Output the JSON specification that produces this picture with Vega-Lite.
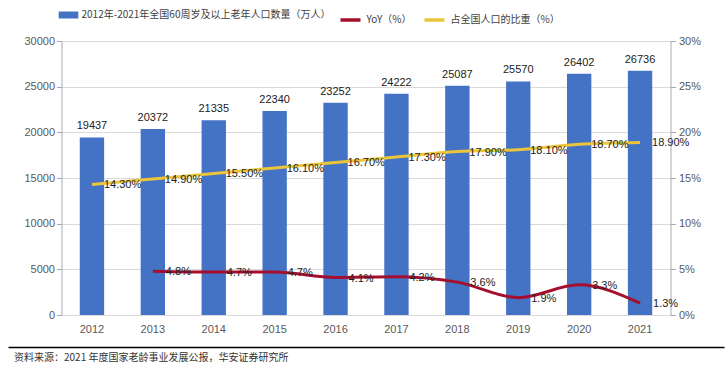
{
  "$schema": "https://vega.github.io/schema/vega-lite/v6.json",
  "background": "white",
  "padding": {"left": 8, "right": 3, "top": 8, "bottom": 5},
  "datasets": {
    "pop": [
      {"year": "2012", "pop": 19437},
      {"year": "2013", "pop": 20372},
      {"year": "2014", "pop": 21335},
      {"year": "2015", "pop": 22340},
      {"year": "2016", "pop": 23252},
      {"year": "2017", "pop": 24222},
      {"year": "2018", "pop": 25087},
      {"year": "2019", "pop": 25570},
      {"year": "2020", "pop": 26402},
      {"year": "2021", "pop": 26736}
    ],
    "pct": [
      {"year": "2013", "series": "YoY（%）", "value": 0.048},
      {"year": "2014", "series": "YoY（%）", "value": 0.047},
      {"year": "2015", "series": "YoY（%）", "value": 0.047},
      {"year": "2016", "series": "YoY（%）", "value": 0.041},
      {"year": "2017", "series": "YoY（%）", "value": 0.042},
      {"year": "2018", "series": "YoY（%）", "value": 0.036},
      {"year": "2019", "series": "YoY（%）", "value": 0.019},
      {"year": "2020", "series": "YoY（%）", "value": 0.033},
      {"year": "2021", "series": "YoY（%）", "value": 0.013},
      {"year": "2012", "series": "占全国人口的比重（%）", "value": 0.143},
      {"year": "2013", "series": "占全国人口的比重（%）", "value": 0.149},
      {"year": "2014", "series": "占全国人口的比重（%）", "value": 0.155},
      {"year": "2015", "series": "占全国人口的比重（%）", "value": 0.161},
      {"year": "2016", "series": "占全国人口的比重（%）", "value": 0.167},
      {"year": "2017", "series": "占全国人口的比重（%）", "value": 0.173},
      {"year": "2018", "series": "占全国人口的比重（%）", "value": 0.179},
      {"year": "2019", "series": "占全国人口的比重（%）", "value": 0.181},
      {"year": "2020", "series": "占全国人口的比重（%）", "value": 0.187},
      {"year": "2021", "series": "占全国人口的比重（%）", "value": 0.189}
    ],
    "source": [
      {"text": "资料来源：2021 年度国家老龄事业发展公报，华安证券研究所"}
    ]
  },
  "vconcat": [
    {
      "width": 609,
      "height": 274,
      "encoding": {
        "x": {
          "field": "year", "type": "ordinal",
          "scale": {"paddingInner": 0.6, "paddingOuter": 0.3},
          "axis": {"title": null, "labelAngle": 0, "ticks": false, "domainColor": "#D9D9D9", "labelPadding": 8}
        }
      },
      "layer": [
        {
          "data": {"name": "pop"},
          "layer": [
            {
              "mark": {"type": "bar"},
              "encoding": {
                "y": {
                  "field": "pop", "type": "quantitative",
                  "scale": {"domain": [0, 30000]},
                  "axis": {"title": null, "orient": "left", "values": [0, 5000, 10000, 15000, 20000, 25000, 30000], "format": "d", "grid": true, "gridColor": "#D9D9D9", "domain": true, "domainColor": "#A5AAB8", "tickColor": "#A5AAB8", "tickSize": 5, "labelPadding": 2}
                },
                "fill": {
                  "datum": "2012年-2021年全国60周岁及以上老年人口数量（万人）", "type": "nominal",
                  "scale": {"range": ["#4472C4"]},
                  "legend": {"symbolType": "M-1.4,-0.5H1.4V0.5H-1.4Z", "symbolSize": 196, "labelOffset": 6, "symbolStrokeWidth": 0}
                }
              }
            },
            {
              "mark": {"type": "text", "baseline": "bottom", "dy": -6, "fontSize": 11, "color": "#222222", "font": "Liberation Sans"},
              "encoding": {
                "y": {"field": "pop", "type": "quantitative"},
                "text": {"field": "pop", "type": "quantitative", "format": "d"}
              }
            }
          ]
        },
        {
          "data": {"name": "pct"},
          "layer": [
            {
              "mark": {"type": "line", "strokeWidth": 3, "interpolate": "monotone"},
              "encoding": {
                "y": {
                  "field": "value", "type": "quantitative",
                  "scale": {"domain": [0, 0.3]},
                  "axis": {"title": null, "orient": "right", "values": [0, 0.05, 0.1, 0.15, 0.2, 0.25, 0.3], "format": ".0%", "grid": false, "domainColor": "#A5AAB8", "tickColor": "#A5AAB8", "tickSize": 5, "labelPadding": 3}
                },
                "stroke": {
                  "field": "series", "type": "nominal",
                  "scale": {"domain": ["YoY（%）", "占全国人口的比重（%）"], "range": ["#A50F2D", "#ECC53B"]},
                  "legend": {"symbolType": "stroke", "symbolSize": 400, "symbolStrokeWidth": 3.5}
                }
              }
            },
            {
              "transform": [{"filter": "datum.series == 'YoY（%）'"}],
              "mark": {"type": "text", "align": "left", "baseline": "middle", "dx": 13, "dy": 1, "fontSize": 11, "color": "#222222", "font": "Liberation Sans"},
              "encoding": {
                "y": {"field": "value", "type": "quantitative"},
                "text": {"field": "value", "type": "quantitative", "format": ".1%"}
              }
            },
            {
              "transform": [{"filter": "datum.series != 'YoY（%）'"}],
              "mark": {"type": "text", "align": "left", "baseline": "middle", "dx": 12, "dy": 1, "fontSize": 11, "color": "#222222", "font": "Liberation Sans"},
              "encoding": {
                "y": {"field": "value", "type": "quantitative"},
                "text": {"field": "value", "type": "quantitative", "format": ".2%"}
              }
            }
          ]
        }
      ],
      "resolve": {"scale": {"y": "independent"}}
    },
    {
      "width": 716,
      "height": 22,
      "data": {"name": "source"},
      "mark": {"type": "text", "align": "left", "baseline": "middle", "dx": 6, "fontSize": 10, "color": "#333333", "font": "Noto Sans CJK SC"},
      "encoding": {
        "x": {
          "datum": 0, "type": "quantitative",
          "scale": {"domain": [0, 1]},
          "axis": {"orient": "top", "title": null, "labels": false, "ticks": false, "grid": false, "domainColor": "#000000", "domainWidth": 1.5}
        },
        "text": {"field": "text", "type": "nominal"}
      }
    }
  ],
  "spacing": 32,
  "center": true,
  "align": "all",
  "bounds": "flush",
  "resolve": {"legend": {"fill": "independent", "stroke": "independent"}},
  "config": {
    "view": {"stroke": null},
    "font": "Liberation Sans",
    "axis": {"labelFont": "Liberation Sans", "labelFontSize": 11, "labelColor": "#595959"},
    "legend": {"orient": "top", "title": null, "labelFont": "Noto Sans CJK SC", "labelFontSize": 10, "labelColor": "#404040", "labelLimit": 0, "columnPadding": 6, "offset": 14}
  }
}
